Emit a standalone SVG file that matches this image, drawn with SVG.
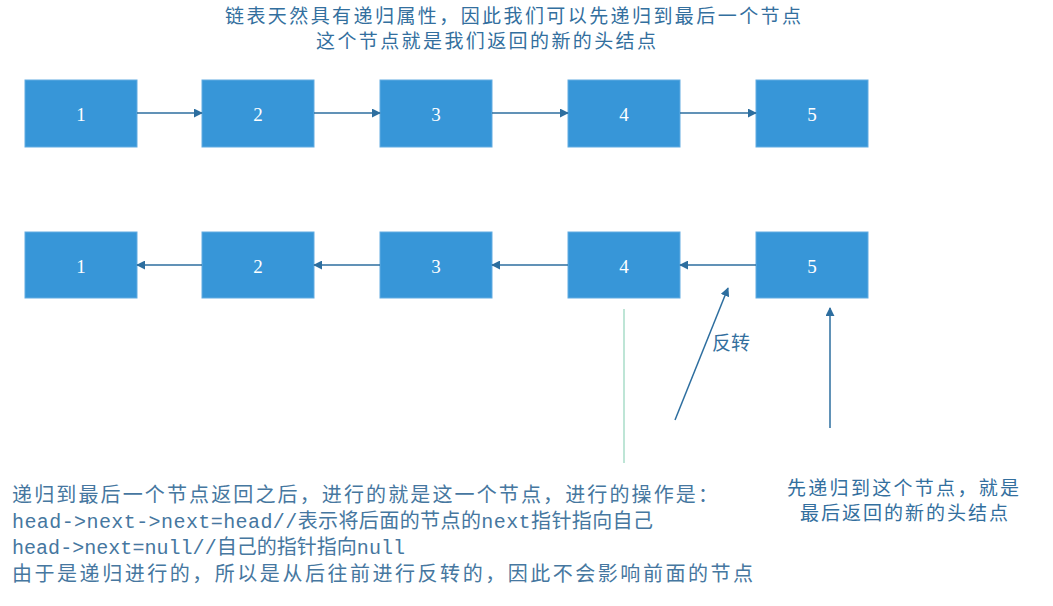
<svg xmlns="http://www.w3.org/2000/svg" width="1053" height="606" viewBox="0 0 1053 606">
<style>
.box{fill:#3796d8;stroke:#62ace2;stroke-width:1}
.num{fill:#ffffff;font-family:"Liberation Serif",serif;font-size:19px;text-anchor:middle;dominant-baseline:central}
.cjk{fill:#336f9e;font-family:"Noto Sans CJK SC",sans-serif;font-size:19px}
.code{fill:#4677a0;font-family:"Liberation Mono","Noto Sans CJK SC",monospace;font-size:20px}
.conn{stroke:#2d6e9f;stroke-width:1.5;fill:none}
</style>
<defs>
<marker id="ah" viewBox="0 0 10 10" refX="9" refY="5" markerWidth="9" markerHeight="9" markerUnits="userSpaceOnUse" orient="auto">
<path d="M0,0 L10,5 L0,10 z" fill="#2d6e9f"/>
</marker>
</defs>
<rect width="1053" height="606" fill="#ffffff"/>
<g id="title">
<text class="cjk" x="513" y="23" text-anchor="middle" textLength="576">链表天然具有递归属性，因此我们可以先递归到最后一个节点</text>
<text class="cjk" x="486" y="48" text-anchor="middle" textLength="340">这个节点就是我们返回的新的头结点</text>
</g>
<g id="a1"><rect class="box" x="25" y="80" width="112" height="67"/><text class="num" x="81" y="114">1</text></g>
<g id="a2"><rect class="box" x="202" y="80" width="112" height="67"/><text class="num" x="258" y="114">2</text></g>
<g id="a3"><rect class="box" x="380" y="80" width="112" height="67"/><text class="num" x="436" y="114">3</text></g>
<g id="a4"><rect class="box" x="568" y="80" width="112" height="67"/><text class="num" x="624" y="114">4</text></g>
<g id="a5"><rect class="box" x="756" y="80" width="112" height="67"/><text class="num" x="812" y="114">5</text></g>
<g id="b1"><rect class="box" x="25" y="232" width="112" height="66"/><text class="num" x="81" y="266">1</text></g>
<g id="b2"><rect class="box" x="202" y="232" width="112" height="66"/><text class="num" x="258" y="266">2</text></g>
<g id="b3"><rect class="box" x="380" y="232" width="112" height="66"/><text class="num" x="436" y="266">3</text></g>
<g id="b4"><rect class="box" x="568" y="232" width="112" height="66"/><text class="num" x="624" y="266">4</text></g>
<g id="b5"><rect class="box" x="756" y="232" width="112" height="66"/><text class="num" x="812" y="266">5</text></g>
<g id="connectors">
<line class="conn" x1="137" y1="113" x2="202" y2="113" marker-end="url(#ah)"/>
<line class="conn" x1="314" y1="113" x2="380" y2="113" marker-end="url(#ah)"/>
<line class="conn" x1="492" y1="113" x2="568" y2="113" marker-end="url(#ah)"/>
<line class="conn" x1="680" y1="113" x2="756" y2="113" marker-end="url(#ah)"/>
<line class="conn" x1="202" y1="265" x2="137" y2="265" marker-end="url(#ah)"/>
<line class="conn" x1="380" y1="265" x2="314" y2="265" marker-end="url(#ah)"/>
<line class="conn" x1="568" y1="265" x2="492" y2="265" marker-end="url(#ah)"/>
<line class="conn" x1="756" y1="265" x2="680" y2="265" marker-end="url(#ah)"/>
<line class="conn" x1="675" y1="420" x2="728" y2="288" marker-end="url(#ah)"/>
<line class="conn" x1="830" y1="428" x2="830" y2="308" marker-end="url(#ah)"/>
<line x1="624" y1="309" x2="624" y2="463" stroke="#a8dcc9" stroke-width="1.5"/>
</g>
<g id="label-reverse"><text class="cjk" x="712" y="350">反转</text></g>
<g id="note-right">
<text class="cjk" x="903" y="495" text-anchor="middle" font-size="18" textLength="232">先递归到这个节点，就是</text>
<text class="cjk" x="904" y="520" text-anchor="middle" font-size="18" textLength="208">最后返回的新的头结点</text>
</g>
<g id="note-bottom">
<text class="code" x="12" y="502" textLength="706">递归到最后一个节点返回之后，进行的就是这一个节点，进行的操作是：</text>
<text class="code" x="12" y="528" textLength="641">head-&gt;next-&gt;next=head//表示将后面的节点的next指针指向自己</text>
<text class="code" x="12" y="554" textLength="393">head-&gt;next=null//自己的指针指向null</text>
<text class="code" x="12" y="581" textLength="741">由于是递归进行的，所以是从后往前进行反转的，因此不会影响前面的节点</text>
</g>
</svg>
